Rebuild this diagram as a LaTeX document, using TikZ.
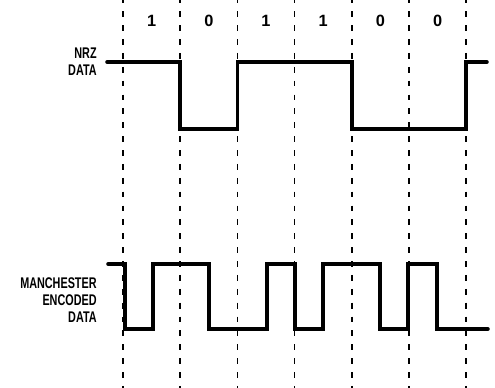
\documentclass[tikz,border=0pt]{standalone}
\usepackage{fontspec}
\setmainfont{Liberation Sans}
\newcommand\narrowtext[1]{\scalebox{0.7}[1]{#1}}

\begin{document}
\begin{tikzpicture}[
  x=0.02cm,
  y=-0.02cm,
  line cap=round,
  line join=miter,
  signal/.style={line width=2pt},
  gridline/.style={line width=1pt, line cap=butt,
    dash pattern=on 3.3pt off 4.6pt, dash phase=1.5pt},
  sigtext/.style={anchor=east, align=right, inner sep=0pt,
    font=\fontsize{8.8}{9.6}\selectfont\bfseries},
  bittext/.style={inner sep=0pt,
    font=\fontsize{9.3}{11}\selectfont\bfseries}
]
  \useasboundingbox (0,0) rectangle (495,388);

  % Границы битов
  \foreach \x in {123,180.2,237.4,294.6,351.8,409,466.2}
    \draw[gridline] (\x,0) -- (\x,388);

  % Биты
  \foreach \x/\b [count=\i] in {151.6/1,208.8/0,266/1,323.2/1,380.4/0,437.6/0}
    \node[bittext] (bit\i) at (\x,21) {\b};

  % Подписи
  \node[sigtext] (nrzlabel) at (97,62)
    {\narrowtext{NRZ}\\\narrowtext{DATA}};
  \node[sigtext] (manlabel) at (97,300)
    {\narrowtext{MANCHESTER}\\\narrowtext{ENCODED}\\\narrowtext{DATA}};

  % Сигнал NRZ
  \draw[signal]
    (107,62) -| (180.2,129) -| (237.4,62) -| (351.8,129)
    -| (466.2,62) -- (487,62);

  % Манчестерский код
  \draw[signal]
    (108,264) -| (125,329) -| (153,264) -| (209,329)
    -| (267,264) -| (295,329) -| (323,264) -| (380,329)
    -| (408,264) -| (437,329) -- (488,329);
\end{tikzpicture}
\end{document}
